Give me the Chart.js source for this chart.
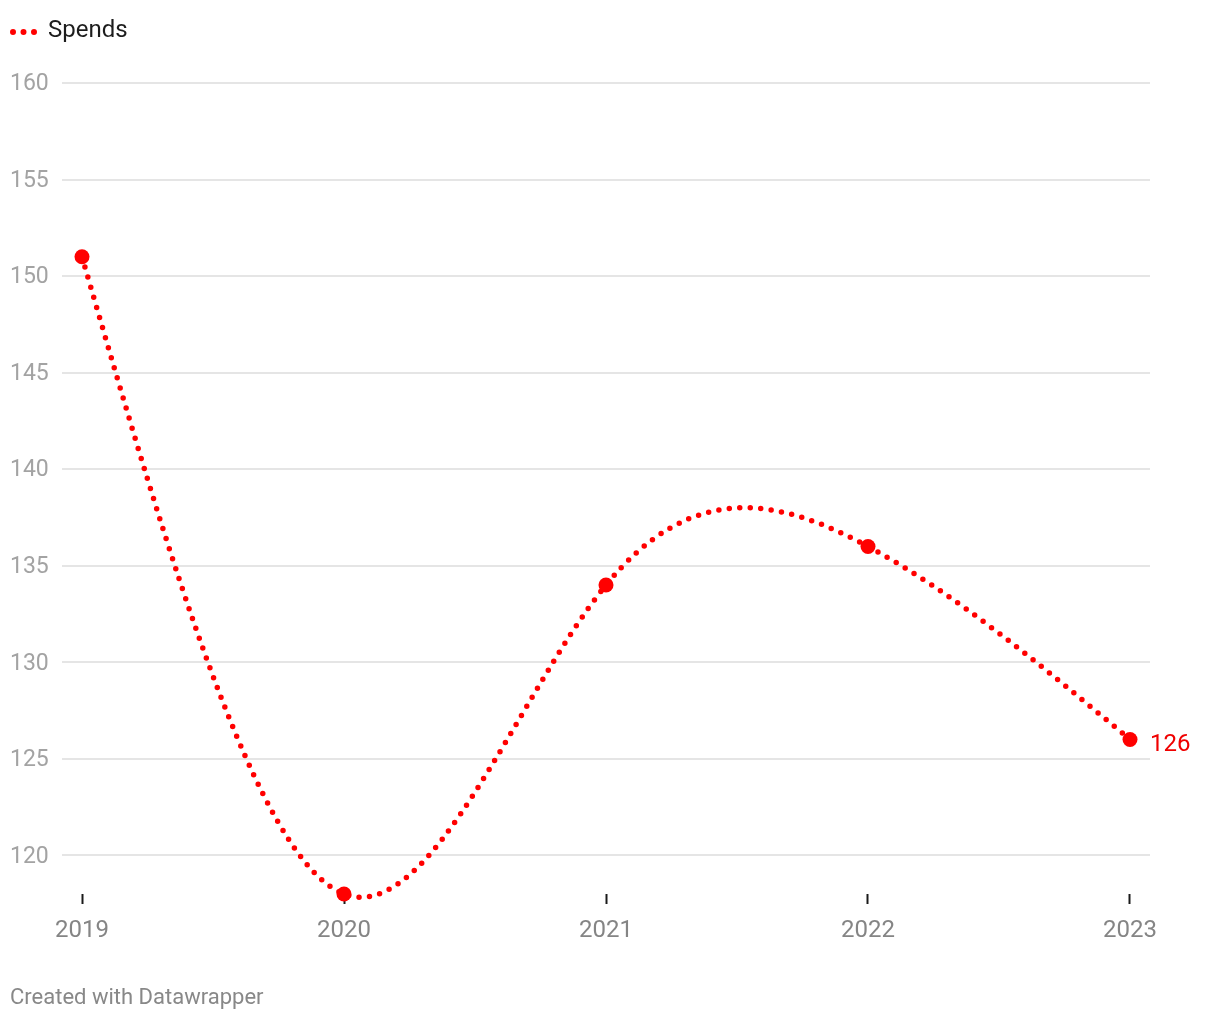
<!DOCTYPE html>
<html>
<head>
<meta charset="utf-8">
<script src="https://cdn.jsdelivr.net/npm/chart.js@4"></script>
<style>
  html, body { margin: 0; padding: 0; background: #fff; }
  canvas { display: block; }
</style>
</head>
<body>
<canvas id="chart" width="1220" height="1020"></canvas>
<script>
// data
const years = [2019, 2020, 2021, 2022, 2023];
const spends = [151, 118, 134, 136, 126];
const yTicks = [120, 125, 130, 135, 140, 145, 150, 155, 160];
const seriesName = 'Spends';
const footerText = 'Created with Datawrapper';

const RED = '#ff0000';
Chart.defaults.font.family = 'Roboto, "Noto Sans", sans-serif';

// d3.curveNatural style control points for one coordinate
function controlPoints(x) {
  const n = x.length - 1;
  const a = new Array(n), b = new Array(n), r = new Array(n);
  let m;
  a[0] = 0; b[0] = 2; r[0] = x[0] + 2 * x[1];
  for (let i = 1; i < n - 1; ++i) { a[i] = 1; b[i] = 4; r[i] = 4 * x[i] + 2 * x[i + 1]; }
  a[n - 1] = 2; b[n - 1] = 7; r[n - 1] = 8 * x[n - 1] + x[n];
  for (let i = 1; i < n; ++i) { m = a[i] / b[i - 1]; b[i] -= m; r[i] -= m * r[i - 1]; }
  a[n - 1] = r[n - 1] / b[n - 1];
  for (let i = n - 2; i >= 0; --i) a[i] = (r[i] - a[i + 1]) / b[i];
  b[n - 1] = (x[n] + a[n - 1]) / 2;
  for (let i = 0; i < n - 1; ++i) b[i] = 2 * x[i + 1] - a[i + 1];
  return [a, b];
}

// replace chart.js bezier control points with a natural spline
const naturalCurve = {
  id: 'naturalCurve',
  beforeDatasetDraw(chart, args) {
    const meta = args.meta;
    const pts = meta.data;
    if (pts.length < 3) return;
    const cx = controlPoints(pts.map(p => p.x));
    const cy = controlPoints(pts.map(p => p.y));
    for (let i = 0; i < pts.length - 1; i++) {
      pts[i].cp2x = cx[0][i]; pts[i].cp2y = cy[0][i];
      pts[i + 1].cp1x = cx[1][i]; pts[i + 1].cp1y = cy[1][i];
    }
    pts[0].cp1x = pts[0].x; pts[0].cp1y = pts[0].y;
    const last = pts[pts.length - 1];
    last.cp2x = last.x; last.cp2y = last.y;
    meta.dataset._pointsUpdated = true;
    meta.dataset._path = undefined;
  }
};

// legend, last value label and footer
const extras = {
  id: 'extras',
  afterDatasetsDraw(chart) {
    const ctx = chart.ctx;
    const pts = chart.getDatasetMeta(0).data;
    const p = pts[pts.length - 1];
    ctx.save();
    ctx.font = '24px Roboto';
    ctx.fillStyle = '#f00000';
    ctx.textAlign = 'left';
    ctx.textBaseline = 'middle';
    ctx.fillText(String(spends[spends.length - 1]), p.x + 20, p.y + 5);
    ctx.restore();
  },
  afterDraw(chart) {
    const ctx = chart.ctx;
    ctx.save();
    // legend swatch
    ctx.strokeStyle = RED;
    ctx.lineWidth = 6;
    ctx.lineCap = 'round';
    ctx.setLineDash([0, 10.5]);
    ctx.beginPath();
    ctx.moveTo(13, 32);
    ctx.lineTo(36, 32);
    ctx.stroke();
    ctx.setLineDash([]);
    ctx.font = '24px Roboto';
    ctx.fillStyle = '#1d1d1d';
    ctx.textBaseline = 'middle';
    ctx.fillText(seriesName, 48, 31);
    // footer
    ctx.font = '22px Roboto';
    ctx.fillStyle = '#888888';
    ctx.fillText(footerText, 10, 998);
    ctx.restore();
  }
};

const pad = 20 / 262;

new Chart(document.getElementById('chart'), {
  type: 'line',
  data: {
    datasets: [{
      label: seriesName,
      data: years.map((yr, i) => ({ x: yr, y: spends[i] })),
      borderColor: RED,
      backgroundColor: RED,
      borderWidth: 5.5,
      borderDash: [0, 10.5],
      borderCapStyle: 'round',
      tension: 0.4,
      fill: false,
      clip: false,
      pointRadius: 7.5,
      pointHoverRadius: 7.5,
      pointBorderWidth: 0,
      pointBackgroundColor: RED
    }]
  },
  options: {
    responsive: false,
    animation: false,
    events: [],
    layout: { padding: { top: 83, left: 10, right: 70, bottom: 66 } },
    plugins: {
      legend: { display: false },
      tooltip: { enabled: false }
    },
    scales: {
      x: {
        type: 'linear',
        z: 1,
        min: years[0] - pad,
        max: years[years.length - 1] + pad,
        afterBuildTicks: (axis) => { axis.ticks = years.map(v => ({ value: v })); },
        afterFit: (axis) => { axis.height = 60; },
        border: { display: false },
        grid: {
          drawOnChartArea: false,
          drawTicks: true,
          tickLength: 10,
          tickWidth: 2,
          tickColor: '#1a1a1a'
        },
        ticks: {
          padding: 13,
          maxRotation: 0,
          autoSkip: false,
          color: '#858585',
          font: { size: 24 },
          callback: (v) => String(v)
        }
      },
      y: {
        min: 118,
        max: 160,
        afterBuildTicks: (axis) => { axis.ticks = yTicks.map(v => ({ value: v })); },
        afterFit: (axis) => { axis.width = 52; },
        border: { display: false },
        grid: {
          color: '#e5e5e5',
          lineWidth: 2,
          drawTicks: false
        },
        ticks: {
          crossAlign: 'far',
          labelOffset: 1.5,
          color: '#a3a3a3',
          font: { size: 23 },
          callback: (v) => String(v)
        }
      }
    }
  },
  plugins: [naturalCurve, extras]
});
</script>
</body>
</html>
